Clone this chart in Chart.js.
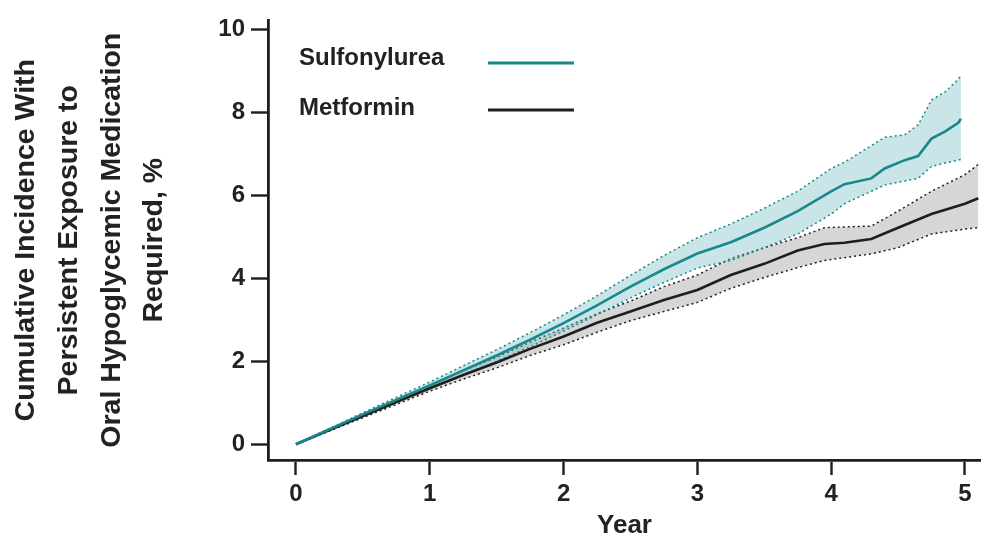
<!DOCTYPE html>
<html>
<head>
<meta charset="utf-8">
<script src="https://cdn.jsdelivr.net/npm/chart.js@4/dist/chart.umd.min.js"></script>
<style>
  html, body { margin: 0; padding: 0; background: #ffffff; }
  #wrap { width: 981px; height: 543px; position: relative; }
</style>
</head>
<body>
<div id="wrap"><canvas id="c" width="981" height="543"></canvas></div>
<script>
// ---- data ----
const seriesNames = ["Sulfonylurea", "Metformin"];
const xTicks = [0, 1, 2, 3, 4, 5];
const yTicks = [0, 2, 4, 6, 8, 10];

const sulfYears  = [0, 0.25, 0.5, 0.75, 1, 1.25, 1.5, 1.75, 2, 2.25, 2.5, 2.75, 3, 3.25, 3.5, 3.75, 4, 4.1, 4.3, 4.4, 4.55, 4.65, 4.75, 4.85, 4.95, 4.97];
const sulfValues = [0, 0.36, 0.72, 1.07, 1.42, 1.78, 2.14, 2.52, 2.92, 3.35, 3.8, 4.22, 4.6, 4.87, 5.22, 5.62, 6.1, 6.27, 6.41, 6.65, 6.85, 6.95, 7.37, 7.54, 7.75, 7.85];
const sulfUpper  = [0, 0.38, 0.76, 1.13, 1.5, 1.89, 2.28, 2.69, 3.12, 3.58, 4.07, 4.55, 4.98, 5.31, 5.69, 6.1, 6.65, 6.8, 7.2, 7.4, 7.46, 7.7, 8.3, 8.49, 8.8, 8.9];
const sulfLower  = [0, 0.34, 0.68, 1.01, 1.34, 1.67, 2.0, 2.35, 2.73, 3.12, 3.53, 3.9, 4.25, 4.43, 4.74, 5.07, 5.55, 5.8, 6.1, 6.25, 6.35, 6.41, 6.7, 6.78, 6.85, 6.87];

const metYears  = [0, 0.25, 0.5, 0.75, 1, 1.25, 1.5, 1.75, 2, 2.25, 2.5, 2.75, 3, 3.25, 3.5, 3.75, 3.95, 4.1, 4.3, 4.5, 4.75, 5.0, 5.1];
const metValues = [0, 0.34, 0.68, 1.02, 1.35, 1.67, 1.97, 2.3, 2.6, 2.93, 3.2, 3.48, 3.72, 4.08, 4.35, 4.67, 4.83, 4.86, 4.95, 5.22, 5.55, 5.8, 5.93];
const metUpper  = [0, 0.36, 0.72, 1.08, 1.42, 1.77, 2.1, 2.46, 2.8, 3.15, 3.45, 3.8, 4.08, 4.48, 4.74, 4.98, 5.22, 5.24, 5.26, 5.62, 6.1, 6.5, 6.75];
const metLower  = [0, 0.32, 0.64, 0.96, 1.28, 1.57, 1.84, 2.14, 2.4, 2.7, 2.98, 3.2, 3.42, 3.76, 4.02, 4.26, 4.43, 4.5, 4.59, 4.74, 5.07, 5.19, 5.22];

// ---- styling ----
const TEAL = "#18898b";
const TEAL_FILL = "rgba(120,190,196,0.40)";
const DARK = "#1e1e1e";
const GREY_FILL = "rgba(0,0,0,0.16)";
const TEXT = "#222222";
const FONT = "'Liberation Sans', Arial, sans-serif";

const pts = (xs, ys) => xs.map((x, i) => ({ x: x, y: ys[i] }));

const datasets = [
  { label: "met-upper", data: pts(metYears, metUpper), borderColor: DARK, borderWidth: 1.5, borderDash: [2, 3],
    backgroundColor: GREY_FILL, fill: "+1", order: 6 },
  { label: "met-lower", data: pts(metYears, metLower), borderColor: DARK, borderWidth: 1.5, borderDash: [2, 3],
    fill: false, order: 5 },
  { label: "sulf-upper", data: pts(sulfYears, sulfUpper), borderColor: TEAL, borderWidth: 1.5, borderDash: [2, 3],
    backgroundColor: TEAL_FILL, fill: "+1", order: 4 },
  { label: "sulf-lower", data: pts(sulfYears, sulfLower), borderColor: TEAL, borderWidth: 1.5, borderDash: [2, 3],
    fill: false, order: 3 },
  { label: seriesNames[1], data: pts(metYears, metValues), borderColor: DARK, borderWidth: 2.6, fill: false, order: 2 },
  { label: seriesNames[0], data: pts(sulfYears, sulfValues), borderColor: TEAL, borderWidth: 2.6, fill: false, order: 1 }
];

const legendPlugin = {
  id: "inlineLegend",
  afterDraw(chart) {
    const ctx = chart.ctx;
    const items = [
      { name: seriesNames[0], color: TEAL, ty: 58, ly: 63 },
      { name: seriesNames[1], color: DARK, ty: 108, ly: 110 }
    ];
    ctx.save();
    ctx.font = "bold 24px " + FONT;
    ctx.textBaseline = "middle";
    ctx.textAlign = "left";
    items.forEach(it => {
      ctx.fillStyle = TEXT;
      ctx.fillText(it.name, 299, it.ty);
      ctx.strokeStyle = it.color;
      ctx.lineWidth = 3;
      ctx.beginPath();
      ctx.moveTo(488, it.ly);
      ctx.lineTo(574, it.ly);
      ctx.stroke();
    });
    ctx.restore();
  }
};

new Chart(document.getElementById("c"), {
  type: "line",
  data: { datasets: datasets },
  plugins: [legendPlugin],
  options: {
    responsive: false,
    animation: false,
    layout: { padding: { left: 0, right: 0, top: 5, bottom: 0 } },
    elements: { point: { radius: 0 }, line: { tension: 0 } },
    plugins: { legend: { display: false }, tooltip: { enabled: false } },
    scales: {
      x: {
        type: "linear",
        min: -0.209,
        max: 5.12,
        afterBuildTicks: s => { s.ticks = xTicks.map(v => ({ value: v })); },
        afterFit: s => { s.height = 83; },
        grid: { drawOnChartArea: false, drawTicks: true, tickLength: 15, tickColor: DARK, tickWidth: 2.4 },
        border: { display: true, color: DARK, width: 2.8 },
        ticks: { color: TEXT, font: { family: FONT, size: 24, weight: "bold" }, padding: 5, maxRotation: 0, autoSkip: false,
                 callback: v => String(v) },
        title: { display: true, text: "Year", color: TEXT, font: { family: FONT, size: 26, weight: "bold" }, padding: { top: 0, bottom: 2 } }
      },
      y: {
        type: "linear",
        min: -0.38,
        max: 10.22,
        afterBuildTicks: s => { s.ticks = yTicks.map(v => ({ value: v })); },
        afterFit: s => { s.width = 268; },
        grid: { drawOnChartArea: false, drawTicks: true, tickLength: 17, tickColor: DARK, tickWidth: 2.4 },
        border: { display: true, color: DARK, width: 2.8 },
        ticks: { color: TEXT, font: { family: FONT, size: 24, weight: "bold" }, padding: 6, autoSkip: false,
                 callback: v => String(v) },
        title: {
          display: true,
          text: ["Cumulative Incidence With", "Persistent Exposure to", "Oral Hypoglycemic Medication", "Required, %"],
          color: TEXT,
          font: { family: FONT, size: 28.5, weight: "bold", lineHeight: 1.5 },
          padding: { top: 5, bottom: 0 }
        }
      }
    }
  }
});
</script>
</body>
</html>
